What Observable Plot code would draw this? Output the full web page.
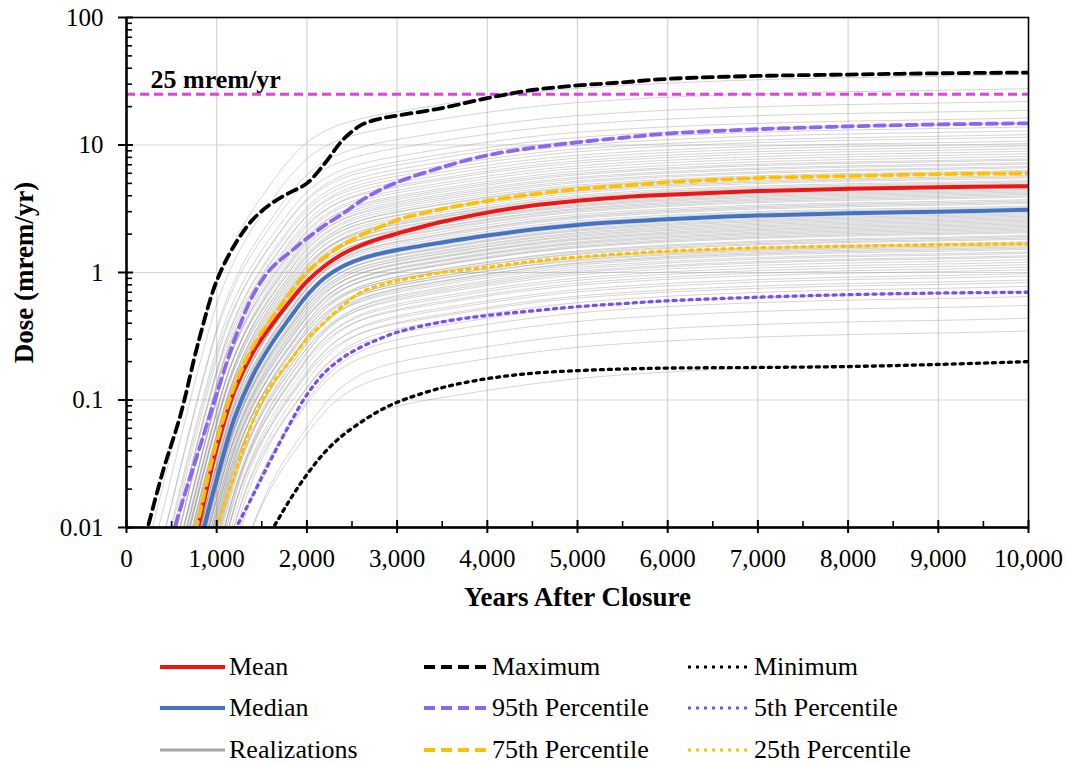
<!DOCTYPE html>
<html>
<head>
<meta charset="utf-8">
<script src="https://cdn.jsdelivr.net/npm/d3@7"></script>
<script src="https://cdn.jsdelivr.net/npm/@observablehq/plot@0.6"></script>
<style>
  html, body { margin: 0; padding: 0; background: #fff; }
  body { font-family: "Liberation Serif", "Times New Roman", serif; }
  #wrap { position: relative; width: 1067px; height: 763px; overflow: hidden; }
  #legend { position: absolute; left: 0; top: 0; width: 1067px; height: 763px; pointer-events: none; }
  .item { position: absolute; display: flex; align-items: center; font-size: 26px; color: #000; white-space: nowrap; transform: translateY(-50%); line-height: 1; }
  .item svg { display: block; margin-right: 4px; }
</style>
</head>
<body>
<div id="wrap"><div id="chart"></div><div id="legend"></div></div>
<script>
// ---------------- data ----------------
const years = [0, 200, 400, 600, 800, 1000, 1200, 1400, 1600, 1800, 2000, 2200, 2400, 2600, 2800, 3000, 3500, 4000, 4500, 5000, 5500, 6000, 7000, 8000, 9000, 10000];

const maximum = [null, 0.008, 0.027, 0.077, 0.29, 0.86, 1.65, 2.6, 3.45, 4.2, 5.0, 7.2, 11, 14.3, 16, 17, 19.5, 23.3, 27, 29.3, 31, 33, 34.8, 35.7, 36.5, 37];
const p95 = [null, null, 0.0045, 0.0143, 0.04, 0.112, 0.3, 0.66, 1.07, 1.42, 1.85, 2.35, 2.9, 3.65, 4.4, 5.1, 6.7, 8.3, 9.5, 10.5, 11.4, 12.3, 13.3, 14.0, 14.5, 14.8];
const p75 = [null, null, null, 0.003, 0.0118, 0.047, 0.13, 0.26, 0.43, 0.67, 1.0, 1.32, 1.65, 1.96, 2.26, 2.58, 3.15, 3.65, 4.1, 4.5, 4.8, 5.1, 5.5, 5.7, 5.9, 6.0];
const mean = [null, null, null, 0.0025, 0.0104, 0.042, 0.12, 0.235, 0.38, 0.58, 0.85, 1.13, 1.4, 1.63, 1.84, 2.02, 2.5, 2.95, 3.35, 3.65, 3.9, 4.07, 4.35, 4.53, 4.67, 4.75];
const median = [null, null, 0.0005, 0.0018, 0.0068, 0.024, 0.073, 0.155, 0.27, 0.43, 0.66, 0.91, 1.12, 1.28, 1.4, 1.5, 1.72, 1.95, 2.17, 2.36, 2.5, 2.62, 2.8, 2.92, 3.0, 3.1];
const p25 = [null, null, null, null, 0.0038, 0.0101, 0.026, 0.068, 0.129, 0.197, 0.30, 0.41, 0.55, 0.70, 0.79, 0.86, 1.0, 1.1, 1.22, 1.32, 1.4, 1.47, 1.56, 1.61, 1.65, 1.68];
const p5 = [null, null, null, null, null, null, 0.0095, 0.0178, 0.034, 0.063, 0.11, 0.165, 0.215, 0.26, 0.30, 0.34, 0.41, 0.46, 0.50, 0.54, 0.57, 0.60, 0.64, 0.67, 0.69, 0.70];
const minimum = [null, null, null, null, null, null, null, null, 0.0092, 0.016, 0.026, 0.039, 0.053, 0.067, 0.082, 0.096, 0.125, 0.147, 0.162, 0.17, 0.175, 0.178, 0.18, 0.183, 0.19, 0.2];

// realizations: each one = the median shape moved by a log10 offset (vertical) and a shift in years (horizontal)
const realizationOffset = [-1.19, -0.95, -0.85, -0.75, -0.68, -0.64, -0.60, -0.57, -0.55, -0.52, -0.50, -0.47, -0.45, -0.43, -0.41, -0.39, -0.37, -0.36, -0.34, -0.33, -0.31, -0.30, -0.29, -0.28, -0.27, -0.26, -0.25, -0.23, -0.22, -0.21, -0.20, -0.18, -0.17, -0.16, -0.15, -0.14, -0.13, -0.12, -0.11, -0.10, -0.09, -0.08, -0.07, -0.06, -0.05, -0.04, -0.03, -0.02, -0.01, 0.00, 0.01, 0.02, 0.03, 0.05, 0.06, 0.07, 0.08, 0.10, 0.11, 0.12, 0.13, 0.14, 0.15, 0.16, 0.17, 0.18, 0.19, 0.20, 0.21, 0.22, 0.23, 0.25, 0.26, 0.27, 0.29, 0.30, 0.31, 0.33, 0.34, 0.36, 0.37, 0.39, 0.40, 0.42, 0.44, 0.46, 0.48, 0.50, 0.52, 0.54, 0.57, 0.59, 0.62, 0.65, 0.68, 0.72, 0.78, 0.85, 0.95, 1.06];
const realizationShift = [230, 150, 200, 110, 160, 90, 140, 60, 130, 80, 120, 50, 110, 70, 100, 30, 90, 60, 120, 20, 70, 40, 100, 10, 60, 30, 80, 0, 50, 20, 70, -10, 40, 60, 0, 30, 50, -20, 20, 40, -10, 30, 0, 20, -30, 10, 30, -10, 0, 20, -20, 10, -30, 0, -10, 20, -40, -10, 0, -30, 10, -50, -20, 0, -40, -10, -60, -20, -30, 0, -50, -20, -70, -30, -50, -10, -60, -40, -80, -30, -60, -50, -90, -40, -70, -60, -100, -50, -80, -110, -70, -100, -90, -130, -100, -120, -150, -130, -170, -200];

const limitValue = 25;
const limitLabel = "25 mrem/yr";
const xMajorTicks = [0, 1000, 2000, 3000, 4000, 5000, 6000, 7000, 8000, 9000, 10000];
const xMinorTicks = [500, 1500, 2500, 3500, 4500, 5500, 6500, 7500, 8500, 9500];
const yMajorTicks = [0.01, 0.1, 1, 10, 100];
const yMinorTicks = [0.02, 0.03, 0.04, 0.05, 0.06, 0.07, 0.08, 0.09, 0.2, 0.3, 0.4, 0.5, 0.6, 0.7, 0.8, 0.9, 2, 3, 4, 5, 6, 7, 8, 9, 20, 30, 40, 50, 60, 70, 80, 90];
const xLabel = "Years After Closure";
const yLabel = "Dose (mrem/yr)";

// ---------------- tables built from the arrays ----------------
const stats = years.map((year, i) => ({year, maximum: maximum[i], p95: p95[i], p75: p75[i], mean: mean[i], median: median[i], p25: p25[i], p5: p5[i], minimum: minimum[i]}));

const realizations = [];
realizationOffset.forEach((off, r) => {
  const shift = realizationShift[r];
  years.forEach((yr, i) => {
    if (median[i] == null) return;
    realizations.push({id: r, year: yr === 10000 ? yr : yr + shift, dose: median[i] * Math.pow(10, off)});
  });
});

// ---------------- styles ----------------
const C = {
  mean: "#f01414", median: "#4472c4", real: "#8a8a8a",
  max: "#000000", p95: "#8c66f2", p75: "#ffc000",
  min: "#000000", p5: "#7a4ff0", p25: "#ffc000", limit: "#e83de8"
};
const DASH = "10,6", DOT = "3,5";
const CURVE = "catmull-rom";

const series = [
  {key: "minimum", stroke: C.min, dash: DOT, w: 3.3},
  {key: "p5", stroke: C.p5, dash: DOT, w: 3.3},
  {key: "p25", stroke: C.p25, dash: DOT, w: 3.3},
  {key: "median", stroke: C.median, dash: null, w: 4},
  {key: "mean", stroke: C.mean, dash: null, w: 4},
  {key: "p75", stroke: C.p75, dash: DASH, w: 3.8},
  {key: "p95", stroke: C.p95, dash: DASH, w: 3.8},
  {key: "maximum", stroke: C.max, dash: DASH, w: 3.8}
];

const W = 1067, H = 625;
const mL = 126, mR = 39, mT = 17, bottomY = 527;
const plotW = W - mL - mR, plotH = bottomY - mT;

const chart = Plot.plot({
  width: W, height: H,
  marginLeft: mL, marginRight: mR, marginTop: mT, marginBottom: H - bottomY,
  style: {fontFamily: "'Liberation Serif', 'Times New Roman', serif", fontSize: "25px", background: "#fff", color: "#000", overflow: "visible"},
  x: {domain: [0, 10000], label: null},
  y: {type: "log", domain: [0.01, 100], label: null},
  marks: [
    Plot.ruleX(xMajorTicks.slice(1, -1), {stroke: "#d3d3d3", strokeWidth: 1.2}),
    Plot.ruleY([0.1, 1, 10], {stroke: "#d3d3d3", strokeWidth: 1.2}),
    Plot.line(realizations, {x: "year", y: "dose", z: "id", stroke: C.real, strokeOpacity: 0.36, strokeWidth: 1, curve: CURVE, clip: true}),
    Plot.ruleY([limitValue], {stroke: C.limit, strokeWidth: 2.8, strokeDasharray: "9,5"}),
    ...series.map(s => Plot.line(stats, {
      filter: d => d[s.key] != null,
      x: "year", y: s.key, stroke: s.stroke, strokeWidth: s.w,
      strokeDasharray: s.dash, curve: CURVE, clip: true
    })),
    Plot.text([limitValue], {y: d => d, frameAnchor: "left", dx: 24, dy: -15, textAnchor: "start", lineAnchor: "middle", text: () => limitLabel, fontSize: 26, fontWeight: "bold", fill: "#000"}),
    Plot.frame({stroke: "#000", strokeWidth: 1.6}),
    Plot.ruleX([0], {stroke: "#000", strokeWidth: 2.4}),
    Plot.ruleY([0.01], {stroke: "#000", strokeWidth: 2.4}),
    Plot.axisY({ticks: yMajorTicks, tickFormat: d => String(d), tickSize: 8, tickPadding: 15, strokeWidth: 2, label: null, fontSize: 25}),
    Plot.tickY(yMajorTicks, {y: d => d, insetRight: plotW - 7, stroke: "#000", strokeWidth: 2}),
    Plot.tickY(yMinorTicks, {y: d => d, insetRight: plotW - 6, stroke: "#000", strokeWidth: 1.6}),
    Plot.axisX({ticks: xMajorTicks, tickFormat: d3.format(","), tickSize: 6, tickPadding: 16, strokeWidth: 2, label: null, fontSize: 25}),
    Plot.tickX(xMajorTicks, {x: d => d, insetTop: plotH - 7, stroke: "#000", strokeWidth: 2}),
    Plot.tickX(xMinorTicks, {x: d => d, insetTop: plotH - 6, stroke: "#000", strokeWidth: 1.6}),
    Plot.text([xLabel], {frameAnchor: "bottom", dy: 70, text: d => d, textAnchor: "middle", lineAnchor: "middle", fontSize: 27, fontWeight: "bold", fill: "#000"}),
    Plot.text([yLabel], {frameAnchor: "left", dx: -102, rotate: -90, text: d => d, textAnchor: "middle", lineAnchor: "middle", fontSize: 27, fontWeight: "bold", fill: "#000"})
  ]
});
document.getElementById("chart").appendChild(chart);

// ---------------- legend (HTML below the plot) ----------------
const legendItems = [
  {label: "Mean", stroke: C.mean, dash: null, w: 4, col: 0, row: 0},
  {label: "Median", stroke: C.median, dash: null, w: 4, col: 0, row: 1},
  {label: "Realizations", stroke: "#a6a6a6", dash: null, w: 3, col: 0, row: 2},
  {label: "Maximum", stroke: C.max, dash: "11,6", w: 4, col: 1, row: 0},
  {label: "95th Percentile", stroke: C.p95, dash: "11,6", w: 4, col: 1, row: 1},
  {label: "75th Percentile", stroke: C.p75, dash: "11,6", w: 4, col: 1, row: 2},
  {label: "Minimum", stroke: C.min, dash: "3,5", w: 3, col: 2, row: 0},
  {label: "5th Percentile", stroke: C.p5, dash: "3,5", w: 3, col: 2, row: 1},
  {label: "25th Percentile", stroke: C.p25, dash: "3,5", w: 3, col: 2, row: 2}
];
const colLeft = [160, 424, 688];
const colLen = [65, 64, 62];
const rowY = [667, 708, 750];
const legend = d3.select("#legend");
legendItems.forEach(it => {
  const div = legend.append("div").attr("class", "item")
    .style("left", colLeft[it.col] + "px").style("top", rowY[it.row] + "px");
  const svg = div.append("svg").attr("width", colLen[it.col]).attr("height", 10);
  svg.append("line").attr("x1", 0).attr("x2", colLen[it.col]).attr("y1", 5).attr("y2", 5)
    .attr("stroke", it.stroke).attr("stroke-width", it.w)
    .attr("stroke-dasharray", it.dash);
  div.append("span").text(it.label);
});
</script>
</body>
</html>
